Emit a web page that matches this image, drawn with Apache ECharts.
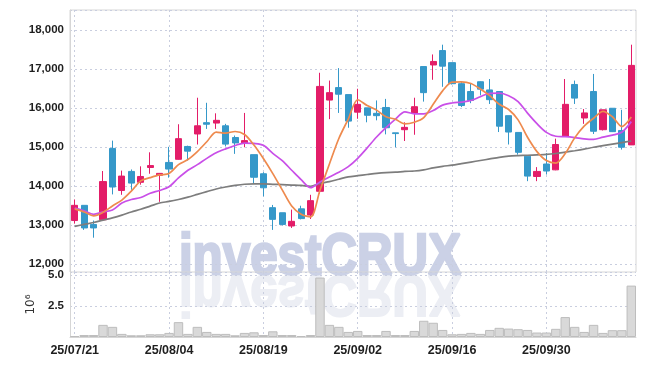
<!DOCTYPE html>
<html><head><meta charset="utf-8">
<script src="https://cdn.jsdelivr.net/npm/echarts@6/dist/echarts.min.js"></script>
<style>html,body{margin:0;padding:0;background:#fff}#c{width:645px;height:366px}</style>
</head><body><div id="c"></div>
<script>
const dates = ['25/07/21','25/07/22','25/07/23','25/07/24','25/07/25','25/07/28','25/07/29','25/07/30','25/07/31','25/08/01',
'25/08/04','25/08/05','25/08/06','25/08/07','25/08/08','25/08/11','25/08/12','25/08/13','25/08/14','25/08/18',
'25/08/19','25/08/20','25/08/21','25/08/22','25/08/25','25/08/26','25/08/27','25/08/28','25/08/29','25/09/01',
'25/09/02','25/09/03','25/09/04','25/09/05','25/09/08','25/09/09','25/09/10','25/09/11','25/09/12','25/09/15',
'25/09/16','25/09/17','25/09/18','25/09/19','25/09/22','25/09/23','25/09/24','25/09/25','25/09/26','25/09/29',
'25/09/30','25/10/01','25/10/02','25/10/10','25/10/13','25/10/14','25/10/15','25/10/16','25/10/17','25/10/20'];

const opens = [13110,13500,13010,13130,14960,13880,14370,14090,14470,14270,
14600,14680,15010,15330,15620,15610,15540,15240,15100,14800,
14310,13440,13310,12970,13410,13250,13860,16200,16520,16340,
15890,16000,15860,16010,15360,15440,15870,17060,17100,17470,
17160,16620,16420,16670,16460,16420,15800,15370,14760,14240,
14560,14410,15270,16600,15740,16420,15440,15990,15420,15050];
const closes = [13500,12920,12920,14110,13970,14250,14070,14240,14520,14320,
14430,15210,14890,15540,15580,15680,15070,15100,15160,14220,
13950,13140,13010,13090,13160,13620,16550,16390,16350,15660,
16090,15810,15800,15490,15340,15500,16030,16390,17190,17070,
16620,16060,16190,16480,16210,15530,15380,14860,14250,14370,
14380,15060,16090,16250,15870,15400,15950,15390,14990,17090];
const lows = [13030,12870,12670,13110,13780,13770,13900,14030,14310,13590,
14210,14670,14650,15060,15460,15460,15010,14820,14990,14070,
13730,12870,12980,12920,13140,13150,13800,15710,15870,15490,
15720,15630,15680,15320,14990,15150,15310,16160,16720,16540,
16600,16020,16120,16320,16100,15380,15060,14800,14120,14120,
14290,14400,15270,16100,15590,15330,15420,15380,14930,15050];
const highs = [13650,13500,13110,14380,15160,14390,14420,14500,14860,14330,
15000,15580,15030,16260,16130,15860,15590,15290,15870,14800,
14350,13510,13310,13390,13490,13770,16900,16700,17020,16340,
16490,16000,16190,16230,15360,15630,16260,17060,17370,17620,
17160,16660,16620,16680,16740,16420,15800,15370,14760,14480,
14840,15210,16740,16700,15970,16870,15950,15990,15950,17620];

const ma5 = [13410,13330,13230,13320,13484,13634,13864,14128,14210,14280,
14316,14544,14674,14878,15130,15380,15352,15394,15318,15046,
14700,14314,13896,13482,13270,13204,13886,14562,15214,15714,
16208,16060,15942,15770,15706,15588,15632,15750,16090,16436,
16660,16666,16626,16484,16312,16094,15958,15692,15246,14878,
14648,14584,14830,15230,15530,15734,15912,15772,15520,15764];
const ma10 = [13430,13360,13270,13330,13380,13560,13650,13700,13810,13882,
13975,14204,14401,14544,14705,14848,14948,15034,15098,15088,
15040,14833,14645,14400,14158,13952,14100,14229,14348,14492,
14706,14973,15252,15492,15710,15898,15846,15846,15930,16071,
16124,16149,16188,16287,16374,16377,16312,16159,15865,15595,
15371,15271,15261,15238,15204,15191,15248,15301,15375,15647];
const ma60 = [12960,13010,13060,13120,13180,13250,13330,13400,13480,13560,
13600,13650,13710,13780,13850,13920,13970,14010,14040,14050,
14050,14040,14030,14020,14010,13990,14060,14110,14170,14230,
14260,14290,14320,14340,14350,14370,14380,14410,14460,14500,
14530,14570,14610,14650,14690,14730,14760,14775,14785,14795,
14805,14830,14865,14900,14940,14990,15030,15070,15110,15150];
// volume in units of 10^6
const volumes = [0.08,0.16,0.16,0.98,0.82,0.25,0.14,0.14,0.22,0.22,
0.33,1.2,0.25,0.82,0.41,0.25,0.25,0.14,0.33,0.38,
0.16,0.46,0.16,0.16,0.08,0.16,4.8,0.98,0.82,0.41,
0.49,0.16,0.16,0.49,0.16,0.16,0.49,1.31,1.15,0.57,
0.22,0.25,0.33,0.25,0.57,0.74,0.68,0.63,0.57,0.36,
0.36,0.66,1.61,0.82,0.41,0.98,0.33,0.55,0.55,4.15];

const candles = dates.map((d, i) => [opens[i], closes[i], lows[i], highs[i]]);
const FONT = "'Liberation Sans', sans-serif";
const grid = '#c9cedf';
const every10 = (idx) => idx % 10 === 0;

const chart = echarts.init(document.getElementById('c'), null, {renderer: 'canvas'});
chart.setOption({
  animation: false,
  backgroundColor: '#ffffff',
  grid: [
    {left: 70, right: 9, top: 10, height: 262, show: true, borderColor: '#d6d6d6', borderWidth: 1, backgroundColor: 'transparent'},
    {left: 70, right: 9, top: 272, height: 65}
  ],
  graphic: [
    {type: 'text', x: 320, y: 292, scaleX: 0.85, scaleY: -1, z: -5, silent: true,
     style: {text: 'investCRUX', font: 'bold 58px "Liberation Sans"', fill: '#eceef4', stroke: '#eceef4', lineWidth: 2,
             align: 'center', verticalAlign: 'middle', textAlign: 'center', textVerticalAlign: 'middle'}},
    {type: 'text', x: 320, y: 258, scaleX: 0.85, z: -5, silent: true,
     style: {text: 'investCRUX', font: 'bold 58px "Liberation Sans"', fill: '#cbd1e6', stroke: '#cbd1e6', lineWidth: 2.5,
             align: 'center', verticalAlign: 'middle', textAlign: 'center', textVerticalAlign: 'middle'}}
  ],
  xAxis: [
    {type: 'category', data: dates, gridIndex: 0, boundaryGap: true,
     axisLine: {show: false}, axisTick: {show: false}, axisLabel: {show: false},
     splitLine: {show: true, interval: every10, alignWithLabel: true, lineStyle: {color: grid, type: [2, 3], width: 1}}},
    {type: 'category', data: dates, gridIndex: 1, boundaryGap: true,
     axisLine: {show: true, lineStyle: {color: '#d6d6d6'}}, axisTick: {show: false},
     axisLabel: {interval: every10, color: '#1e1e1e', fontFamily: FONT, fontWeight: 'bold', fontSize: 12.5, margin: 7},
     splitLine: {show: true, interval: every10, alignWithLabel: true, lineStyle: {color: grid, type: [2, 3], width: 1}}}
  ],
  yAxis: [
    {type: 'value', gridIndex: 0, min: 11790, max: 18510,
     axisLine: {show: true, lineStyle: {color: '#d6d6d6'}}, axisTick: {show: false},
     axisLabel: {color: '#1e1e1e', fontFamily: FONT, fontWeight: 'bold', fontSize: 11.5, margin: 6, showMinLabel: false, showMaxLabel: false},
     splitLine: {show: true, lineStyle: {color: grid, type: [2, 3], width: 1}}},
    {type: 'value', gridIndex: 1, min: 0, max: 5.25, interval: 2.5,
     name: '10\u2076', nameLocation: 'middle', nameRotate: 90, nameGap: 25,
     nameTextStyle: {color: '#333', fontFamily: 'DejaVu Sans', fontSize: 12},
     axisLine: {show: true, lineStyle: {color: '#d6d6d6'}}, axisTick: {show: false},
     axisLabel: {color: '#1e1e1e', fontFamily: FONT, fontWeight: 'bold', fontSize: 11.5, margin: 6, showMinLabel: false, showMaxLabel: false,
                 formatter: v => v.toFixed(1)},
     splitLine: {show: true, lineStyle: {color: grid, type: [2, 3], width: 1}}}
  ],
  series: [
    {type: 'candlestick', xAxisIndex: 0, yAxisIndex: 0, data: candles, barWidth: '70%',
     itemStyle: {color: '#e31d68', color0: '#3598c9', borderColor: '#e31d68', borderColor0: '#3598c9', borderWidth: 1}},
    {type: 'line', xAxisIndex: 0, yAxisIndex: 0, data: ma60, smooth: 0.3, symbol: 'none', z: 3,
     lineStyle: {color: '#7d7d7d', width: 1.7}},
    {type: 'line', xAxisIndex: 0, yAxisIndex: 0, data: ma10, smooth: 0.3, symbol: 'none', z: 3,
     lineStyle: {color: '#c94fe8', width: 1.7}},
    {type: 'line', xAxisIndex: 0, yAxisIndex: 0, data: ma5, smooth: 0.3, symbol: 'none', z: 3,
     lineStyle: {color: '#ee8a4e', width: 1.7}},
    {type: 'bar', xAxisIndex: 1, yAxisIndex: 1, data: volumes, barWidth: '100%',
     itemStyle: {color: '#d9d9d9', borderColor: '#bdbdbd', borderWidth: 1}}
  ]
});
</script>
</body></html>
